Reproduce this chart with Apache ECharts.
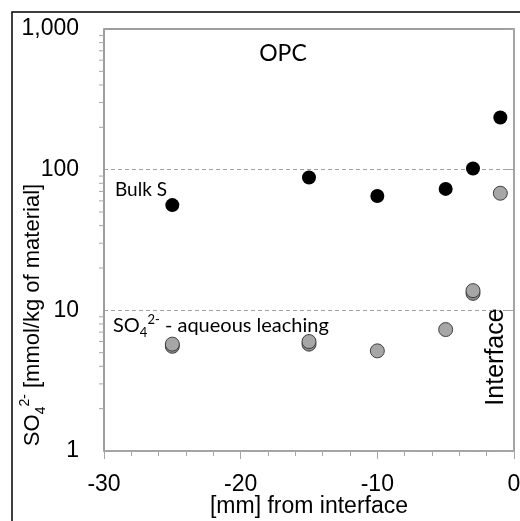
<!DOCTYPE html>
<html><head><meta charset="utf-8">
<script src="https://cdn.jsdelivr.net/npm/echarts@6/dist/echarts.min.js"></script>
<style>html,body{margin:0;padding:0;background:#fff}#c{width:520px;height:521px}</style>
</head><body><div id="c"></div>
<script>
// Data
const distances = [-25, -15, -10, -5, -3, -1];
const bulkS = [56, 88, 65, 73, 102, 235];
const leachingA = [5.75, 6.0, 5.15, 7.3, 13.8, 68];
const leachingBX = [-25, -15, -3];
const leachingB = [5.55, 5.75, 13.2];
const yMinorTicks = [2,3,4,5,6,7,8,9,20,30,40,50,60,70,80,90,200,300,400,500,600,700,800,900];

const AX = '#a6a6a6';
const chart = echarts.init(document.getElementById('c'), null, {renderer: 'canvas'});
const option = {
  animation: false,
  backgroundColor: '#fff',
  grid: {left: 104, right: 6, top: 29, bottom: 70, containLabel: false, outerBoundsMode: 'none',
    show: true, borderColor: '#7f7f7f', borderWidth: 1.5, backgroundColor: 'transparent'},
  xAxis: {
    type: 'value', min: -30, max: 0, interval: 10,
    axisLine: {show: true, onZero: false, lineStyle: {color: AX, width: 1.5}},
    axisTick: {show: true, length: 8, lineStyle: {color: AX, width: 1}},
    minorTick: {show: true, splitNumber: 5, length: 5, lineStyle: {color: AX, width: 1}},
    splitLine: {show: false},
    axisLabel: {margin: 22, fontFamily: 'Liberation Sans', fontSize: 23, color: '#000'}
  },
  yAxis: {
    type: 'log', logBase: 10, min: 1, max: 1000,
    axisLine: {show: true, lineStyle: {color: AX, width: 1.5}},
    axisTick: {show: true, length: 8, lineStyle: {color: AX, width: 1}},
    splitLine: {show: true, lineStyle: {color: '#a0a0a0', type: [4, 3], width: 1}},
    axisLabel: {margin: 25, fontFamily: 'Liberation Sans', fontSize: 23, color: '#000',
      formatter: v => Number(v).toLocaleString('en-US')}
  },
  series: [
    {type: 'custom', clip: false, silent: true, z: 3,
     data: yMinorTicks.map(v => [-30, v]),
     renderItem: (params, api) => {
       const p = api.coord([api.value(0), api.value(1)]);
       return {type: 'line', shape: {x1: p[0] - 5, y1: p[1], x2: p[0], y2: p[1]}, style: {stroke: AX, lineWidth: 1}};
     }},
    {type: 'scatter', name: 'leachB', symbolSize: 14, z: 4,
     itemStyle: {color: '#8c8c8c', borderColor: '#3f3f3f', borderWidth: 1, opacity: 1},
     data: leachingBX.map((x, i) => [x, leachingB[i]])},
    {type: 'scatter', name: 'leachA', symbolSize: 14, z: 5,
     itemStyle: {color: '#a6a6a6', borderColor: '#3f3f3f', borderWidth: 1, opacity: 1},
     data: distances.map((x, i) => [x, leachingA[i]])},
    {type: 'scatter', name: 'Bulk S', symbolSize: 14, z: 5,
     itemStyle: {color: '#000', opacity: 1},
     data: distances.map((x, i) => [x, bulkS[i]])}
  ],
  graphic: [
    {type: 'rect', silent: true, z: 100, shape: {x: 12, y: 12, width: 560, height: 560},
     style: {fill: 'none', stroke: '#000', lineWidth: 1.5}},
    {type: 'text', x: 309, y: 507, silent: true,
     style: {text: '[mm] from interface', font: '23px "Liberation Sans"', fill: '#000', align: 'center', verticalAlign: 'middle'}},
    {type: 'text', x: 283, y: 54, silent: true,
     style: {text: 'OPC', font: '23px Lato', fill: '#000', align: 'center', verticalAlign: 'middle'}},
    {type: 'text', x: 115, y: 190, silent: true,
     style: {text: 'Bulk S', font: '19px Lato', fill: '#000', align: 'left', verticalAlign: 'middle'}},
    {type: 'text', x: 113, y: 326, silent: true,
     style: {text: '{a|SO}{b|4}{c|2-}{a| - aqueous leaching}', align: 'left', verticalAlign: 'middle', fill: '#000',
       rich: {
         a: {fontFamily: 'Lato', fontSize: 20, lineHeight: 26, verticalAlign: 'middle', fill: '#000'},
         b: {fontFamily: 'Lato', fontSize: 13, lineHeight: 26, verticalAlign: 'bottom', fill: '#000'},
         c: {fontFamily: 'Lato', fontSize: 13, lineHeight: 26, verticalAlign: 'top', fill: '#000'}
       }}},
    {type: 'text', x: 496, y: 357, rotation: Math.PI / 2, silent: true,
     style: {text: 'Interface', font: '25px "Liberation Sans"', fill: '#000', align: 'center', verticalAlign: 'middle'}},
    {type: 'text', x: 33, y: 315, rotation: Math.PI / 2, silent: true,
     style: {text: '{a|SO}{b|4}{c|2-}{a| [mmol/kg of material]}', align: 'center', verticalAlign: 'middle', fill: '#000',
       rich: {
         a: {fontFamily: 'Liberation Sans', fontSize: 22, lineHeight: 30, verticalAlign: 'middle', fill: '#000'},
         b: {fontFamily: 'Liberation Sans', fontSize: 14, lineHeight: 30, verticalAlign: 'bottom', fill: '#000'},
         c: {fontFamily: 'Liberation Sans', fontSize: 14, lineHeight: 30, verticalAlign: 'top', fill: '#000'}
       }}}
  ]
};
chart.setOption(option);
</script>
</body></html>
